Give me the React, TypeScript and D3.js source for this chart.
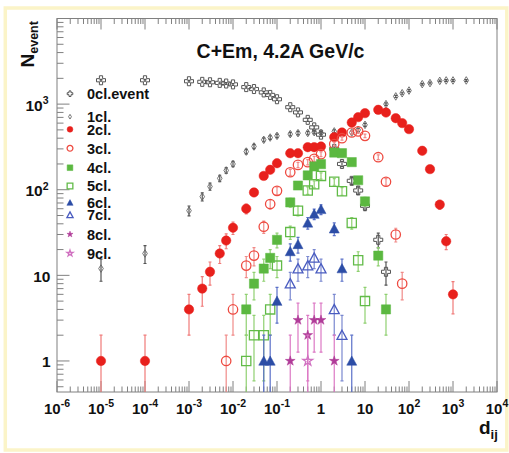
import React from 'react';
import * as d3 from 'd3';

const W = 509;
const H = 453;
const TITLE = 'C+Em, 4.2A GeV/c';
const X_TICK_EXPONENTS = [-6, -5, -4, -3, -2, -1, 0, 1, 2, 3, 4];
const Y_TICK_EXPONENTS = [0, 1, 2, 3];

// 0cl.event
const cl0X = [1e-5, 1e-4, 1e-3, 2e-3, 3e-3, 5e-3, 7e-3, 1e-2, 2e-2, 3e-2, 5e-2, 7e-2, 0.1, 0.2, 0.3, 0.5, 0.7, 1, 2, 3, 5, 7, 10, 20, 30];
const cl0Y = [1900, 1900, 1850, 1820, 1800, 1770, 1740, 1700, 1580, 1500, 1370, 1280, 1140, 920, 800, 655, 535, 440, 300, 200, 127, 98, 65, 26, 11];
// 1cl.
const cl1X = [1e-5, 1e-4, 1e-3, 2e-3, 3e-3, 5e-3, 7e-3, 1e-2, 2e-2, 3e-2, 5e-2, 7e-2, 0.1, 0.2, 0.3, 0.5, 0.7, 1, 2, 3, 5, 7, 10, 20, 30, 50, 70, 100, 200, 300, 500, 700, 1000, 2000];
const cl1Y = [12, 18, 57, 83, 109, 136, 168, 200, 279, 320, 383, 407, 426, 446, 458, 460, 470, 460, 480, 470, 466, 500, 573, 850, 1000, 1230, 1340, 1440, 1710, 1760, 1870, 1890, 1890, 1890];
// 2cl.
const cl2X = [1e-5, 1e-4, 1e-3, 2e-3, 3e-3, 5e-3, 7e-3, 1e-2, 2e-2, 3e-2, 5e-2, 7e-2, 0.1, 0.2, 0.3, 0.5, 0.7, 1, 2, 3, 5, 7, 10, 20, 30, 50, 70, 100, 200, 300, 500, 700, 1000];
const cl2Y = [1, 1, 4, 7, 11, 18, 25.5, 36, 60, 93, 145, 171, 204, 267, 267, 314, 314, 320, 411, 466, 609, 704, 784, 858, 798, 685, 600, 510, 285, 174, 67, 25, 6];
// 3cl.
const cl3X = [7e-3, 1e-2, 2e-2, 3e-2, 5e-2, 7e-2, 0.1, 0.2, 0.3, 0.5, 0.7, 1, 2, 3, 5, 7, 10, 20, 30, 50, 70];
const cl3Y = [1, 4, 13, 17, 37, 68, 97, 160, 195, 210, 230, 260, 341, 400, 466, 480, 426, 240, 124, 30, 8];
// 4cl.
const cl4X = [2e-2, 3e-2, 5e-2, 7e-2, 0.1, 0.2, 0.3, 0.5, 0.7, 1, 2, 3, 5, 7, 10, 20, 30];
const cl4Y = [4, 8, 12, 16, 26, 71, 112, 147, 187, 199, 272, 267, 210, 129, 73, 17, 4];
// 5cl.
const cl5X = [2e-2, 3e-2, 5e-2, 7e-2, 0.1, 0.2, 0.3, 0.5, 0.7, 1, 2, 3, 5, 7, 10];
const cl5Y = [1, 2, 2, 4, 13, 32, 57, 98, 116, 145, 124, 96, 41, 15, 5];
// 6cl.
const cl6X = [5e-2, 7e-2, 0.1, 0.2, 0.3, 0.5, 0.7, 1, 2, 3, 5];
const cl6Y = [1, 1, 5, 19, 23, 41, 52, 59, 35, 12, 1];
// 7cl.
const cl7X = [0.2, 0.3, 0.5, 0.7, 1, 2, 3];
const cl7Y = [8, 12, 13, 16, 12, 4, 2];
// 8cl.
const cl8X = [0.2, 0.3, 0.5, 0.7, 1, 2];
const cl8Y = [1, 3, 2, 3, 3, 1];
// 9cl.
const cl9X = [0.5];
const cl9Y = [1];

const LABELS = ['0cl.event', '1cl.', '2cl.', '3cl.', '4cl.', '5cl.', '6cl.', '7cl.', '8cl.', '9cl.'];

type Marker = 'cross' | 'diamond' | 'circle' | 'square' | 'triangle' | 'star';
interface Series { label: string; xs: number[]; ys: number[]; marker: Marker; filled: boolean; color: string; bar: string; }

const SERIES: Series[] = [
  { label: LABELS[0], xs: cl0X, ys: cl0Y, marker: 'cross', filled: false, color: '#555555', bar: '#555555' },
  { label: LABELS[1], xs: cl1X, ys: cl1Y, marker: 'diamond', filled: false, color: '#666666', bar: '#555555' },
  { label: LABELS[2], xs: cl2X, ys: cl2Y, marker: 'circle', filled: true, color: '#e8201c', bar: '#f07a78' },
  { label: LABELS[3], xs: cl3X, ys: cl3Y, marker: 'circle', filled: false, color: '#ee4a40', bar: '#f08a88' },
  { label: LABELS[4], xs: cl4X, ys: cl4Y, marker: 'square', filled: true, color: '#5bb840', bar: '#8fd070' },
  { label: LABELS[5], xs: cl5X, ys: cl5Y, marker: 'square', filled: false, color: '#62bb48', bar: '#8fd070' },
  { label: LABELS[6], xs: cl6X, ys: cl6Y, marker: 'triangle', filled: true, color: '#2c4da6', bar: '#5a70c8' },
  { label: LABELS[7], xs: cl7X, ys: cl7Y, marker: 'triangle', filled: false, color: '#4a5cc0', bar: '#7a88d0' },
  { label: LABELS[8], xs: cl8X, ys: cl8Y, marker: 'star', filled: true, color: '#b03c98', bar: '#dc78c4' },
  { label: LABELS[9], xs: cl9X, ys: cl9Y, marker: 'star', filled: false, color: '#d070c0', bar: '#dc78c4' },
];

// layout
const PLOT = { left: 57, right: 497, top: 18.5, bottom: 392 };
const LEGEND_MARK_Y = [93.7, 116.7, 129.3, 148.3, 167.7, 186, 202.7, 215, 234.3, 253.3];
const FONT = '"Liberation Sans", Arial, Helvetica, sans-serif';

const xScale = d3.scaleLog().domain([1e-6, 1e4]).range([PLOT.left, PLOT.right]);
const yScale = d3.scaleLog().domain([0.434, 1e4]).range([PLOT.bottom, PLOT.top]);

function markerPath(m: Marker, s: number): string {
  if (m === 'cross') {
    const a = 1.6 * s, r = 4.5 * s;
    return `M${-a},${-r}H${a}V${-a}H${r}V${a}H${a}V${r}H${-a}V${a}H${-r}V${-a}H${-a}Z`;
  }
  if (m === 'diamond') {
    const w = 2.3 * s, h = 3.8 * s;
    return `M0,${-h}L${w},0L0,${h}L${-w},0Z`;
  }
  if (m === 'square') {
    const r = 4.6 * s;
    return `M${-r},${-r}H${r}V${r}H${-r}Z`;
  }
  if (m === 'triangle') {
    const r = 5 * s;
    return `M0,${-r}L${r},${0.85 * r}L${-r},${0.85 * r}Z`;
  }
  if (m === 'star') {
    return d3.symbol(d3.symbolStar, 30 * s * s)() || '';
  }
  return d3.symbol(d3.symbolCircle, Math.PI * 4.7 * 4.7 * s * s)() || '';
}

function MarkerShape({ s, x, y, scale }: { s: Series; x: number; y: number; scale: number }) {
  const d = markerPath(s.marker, scale);
  const sw = s.marker === 'diamond' ? 0.9 : s.marker === 'cross' ? 1 : 1.3;
  return (
    <path
      d={d}
      transform={`translate(${x},${y})`}
      fill={s.filled ? s.color : 'none'}
      stroke={s.color}
      strokeWidth={s.filled ? 0.5 : sw}
    />
  );
}

function supLabel(exp: number) {
  if (exp === 0) return [<tspan key="a">1</tspan>];
  if (exp === 1) return [<tspan key="a">10</tspan>];
  return [
    <tspan key="a">10</tspan>,
    <tspan key="b" fontSize={10.5} dy={-6.5}>{String(exp)}</tspan>,
  ];
}

export default function App() {
  const xMinor: number[] = [];
  for (let e = -6; e < 4; e++) for (let k = 2; k <= 9; k++) xMinor.push(k * Math.pow(10, e));
  const yMinor: number[] = [];
  for (let e = -1; e < 4; e++) for (let k = 2; k <= 9; k++) {
    const v = k * Math.pow(10, e);
    if (v >= 0.434 && v <= 1e4) yMinor.push(v);
  }
  const axisColor = '#808080';
  const [y0, y1] = [PLOT.bottom, PLOT.top];

  return (
    <div style={{ position: 'fixed', left: 0, top: 0, width: W, height: H, background: '#fff' }}>
      <svg width={W} height={H} viewBox={`0 0 ${W} ${H}`} style={{ display: 'block', fontFamily: FONT }}>
        <rect x={0} y={0} width={W} height={H} fill="#ffffff" />
        <rect x={5.3} y={8} width={501.5} height={442} fill="#ffffff" stroke="#fbf4c8" strokeWidth={3.5} />
        <defs>
          <clipPath id="plotclip">
            <rect x={PLOT.left} y={PLOT.top} width={PLOT.right - PLOT.left} height={PLOT.bottom - PLOT.top} />
          </clipPath>
        </defs>

        {/* frame */}
        <rect x={PLOT.left} y={PLOT.top} width={PLOT.right - PLOT.left} height={PLOT.bottom - PLOT.top}
          fill="none" stroke={axisColor} strokeWidth={1} />

        {/* x ticks bottom & top, y ticks left */}
        <g stroke={axisColor} strokeWidth={1}>
          {X_TICK_EXPONENTS.map((e) => {
            const x = xScale(Math.pow(10, e));
            return (
              <g key={'xm' + e}>
                <line x1={x} x2={x} y1={y0} y2={y0 - 11} />
                <line x1={x} x2={x} y1={y1} y2={y1 + 11} />
              </g>
            );
          })}
          {xMinor.map((v, i) => {
            const x = xScale(v);
            return (
              <g key={'xn' + i}>
                <line x1={x} x2={x} y1={y0} y2={y0 - 5.5} />
                <line x1={x} x2={x} y1={y1} y2={y1 + 5.5} />
              </g>
            );
          })}
          {Y_TICK_EXPONENTS.map((e) => {
            const y = yScale(Math.pow(10, e));
            return <line key={'ym' + e} x1={PLOT.left} x2={PLOT.left + 12.5} y1={y} y2={y} />;
          })}
          {yMinor.filter((v) => ![1, 10, 100, 1000].includes(v)).map((v, i) => {
            const y = yScale(v);
            return <line key={'yn' + i} x1={PLOT.left} x2={PLOT.left + 6.5} y1={y} y2={y} />;
          })}
        </g>

        {/* x tick labels */}
        <g fontWeight="bold" fontSize={15} fill="#111" textAnchor="middle">
          {X_TICK_EXPONENTS.map((e) => (
            <text key={'xl' + e} x={xScale(Math.pow(10, e))} y={413.5}>{supLabel(e)}</text>
          ))}
        </g>
        {/* y tick labels */}
        <g fontWeight="bold" fontSize={15.5} fill="#111" textAnchor="end">
          {Y_TICK_EXPONENTS.map((e) => (
            <text key={'yl' + e} x={e >= 2 ? 48.5 : 50.5} y={yScale(Math.pow(10, e)) + 6.5}>{supLabel(e)}</text>
          ))}
        </g>

        {/* axis titles */}
        <text transform="translate(33.5,67.5) rotate(-90)" fontWeight="bold" fill="#111">
          <tspan fontSize={19}>N</tspan>
          <tspan fontSize={12.5} dy={4}>event</tspan>
        </text>
        <text x={479} y={434} fontWeight="bold" fill="#111">
          <tspan fontSize={19}>d</tspan>
          <tspan fontSize={13} dy={5}>ij</tspan>
        </text>

        {/* title */}
        <text x={280.5} y={58.3} textAnchor="middle" fontWeight="bold" fontSize={19.5} fill="#111">{TITLE}</text>

        {/* data */}
        <g clipPath="url(#plotclip)">
          {SERIES.map((s, si) => (
            <g key={'s' + si}>
              {s.xs.map((xv, i) => {
                const yv = s.ys[i];
                const err = Math.sqrt(yv);
                const lo = yv - err;
                const x = xScale(xv);
                const yTop = yScale(yv + err);
                const yBot = lo > 0.434 ? yScale(lo) : PLOT.bottom + 2;
                return (
                  <g key={'e' + i} stroke={s.bar} strokeWidth={1.2}>
                    <line x1={x} x2={x} y1={yTop} y2={yBot} />
                    <line x1={x - 1.5} x2={x + 1.5} y1={yTop} y2={yTop} />
                    {lo > 0.434 && <line x1={x - 1.5} x2={x + 1.5} y1={yBot} y2={yBot} />}
                  </g>
                );
              })}
              {s.xs.map((xv, i) => (
                <MarkerShape key={'m' + i} s={s} x={xScale(xv)} y={yScale(s.ys[i])} scale={1} />
              ))}
            </g>
          ))}
        </g>

        {/* legend */}
        {SERIES.map((s, i) => (
          <g key={'lg' + i}>
            <MarkerShape s={s} x={70} y={LEGEND_MARK_Y[i]} scale={0.62} />
            <text x={87} y={LEGEND_MARK_Y[i] + 5.3} fontWeight="bold" fontSize={14.5} fill="#111">{s.label}</text>
          </g>
        ))}
      </svg>
    </div>
  );
}
